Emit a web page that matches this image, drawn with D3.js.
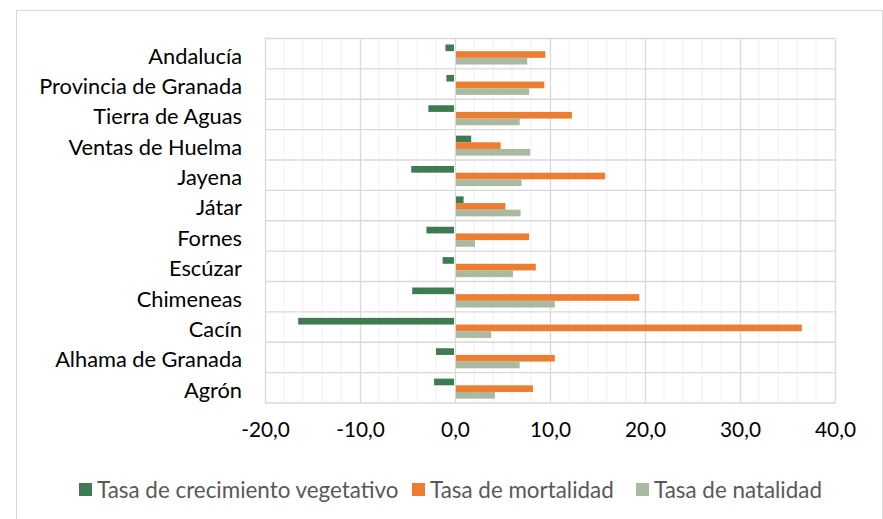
<html lang="es">
<head>
  <meta charset="UTF-8"/>
  <title>Tasas demográficas</title>
  <script src="https://d3js.org/d3.v7.min.js"></script>
  <style>
body {
  margin: 0;
  background: #fff;
  font-family: 'Lato', sans-serif;
}
svg {
  display: block;
}
.grid-major line {
  stroke: #d9d9d9;
  stroke-width: 1.3;
}
.grid-minor line {
  stroke: #f0f0f0;
  stroke-width: 1;
}
.domain {
  display: none;
}
.cat text {
  font-family: 'Lato', sans-serif;
  font-size: 21.8px;
  fill: #000;
}
.xaxis text {
  font-family: 'Lato', sans-serif;
  font-size: 20.8px;
  fill: #000;
}
.legend text {
  font-family: 'Lato', sans-serif;
  font-size: 22.4px;
  fill: #595959;
}
  </style>
</head>
<body>
  <svg width="883" height="519"></svg>
  <script>
const categories = ['Andalucía', 'Provincia de Granada', 'Tierra de Aguas', 'Ventas de Huelma',
  'Jayena', 'Játar', 'Fornes', 'Escúzar', 'Chimeneas', 'Cacín', 'Alhama de Granada', 'Agrón'];
const seriesNames = ['Tasa de crecimiento vegetativo', 'Tasa de mortalidad', 'Tasa de natalidad'];
const crecimiento = [-0.9, -0.8, -2.7, 1.6, -4.5, 0.8, -2.9, -1.2, -4.4, -16.4, -1.9, -2.1];
const mortalidad  = [9.4, 9.3, 12.2, 4.7, 15.7, 5.2, 7.7, 8.4, 19.3, 36.4, 10.4, 8.1];
const natalidad   = [7.5, 7.7, 6.7, 7.8, 6.9, 6.8, 2.0, 6.0, 10.4, 3.7, 6.7, 4.1];
const xTicks = [-20, -10, 0, 10, 20, 30, 40];
const colors = ['#3f7b52', '#ed7d31', '#aab9a2'];

const series = [crecimiento, mortalidad, natalidad];
const svg = d3.select('svg');

// outer chart frame
svg.append('rect')
  .attr('x', 16.5).attr('y', 10.5)
  .attr('width', 866).attr('height', 520)
  .attr('fill', 'none')
  .attr('stroke', '#d9d9d9');

const plotLeft = 265, plotRight = 835, plotTop = 38.5, plotBottom = 403;

const x = d3.scaleLinear().domain([-20, 40]).range([plotLeft, plotRight]);
const y = d3.scaleBand().domain(categories).range([plotTop, plotBottom]).padding(0);
const ySub = d3.scaleBand().domain(d3.range(3)).range([6, 26]).padding(0);

// minor vertical grid
svg.append('g')
  .attr('class', 'grid-minor')
  .selectAll('line')
  .data(d3.range(-20, 41, 2).filter(v => v % 10 !== 0))
  .join('line')
  .attr('x1', d => x(d)).attr('x2', d => x(d))
  .attr('y1', plotTop).attr('y2', plotBottom);

// major vertical grid
svg.append('g')
  .attr('class', 'grid-major')
  .attr('transform', `translate(0, ${plotTop})`)
  .call(d3.axisBottom(x).tickValues(xTicks).tickSize(plotBottom - plotTop).tickFormat(''));

// horizontal grid at category boundaries
svg.append('g')
  .attr('class', 'grid-major')
  .selectAll('line')
  .data(categories.map(c => y(c)).concat([plotBottom]))
  .join('line')
  .attr('x1', plotLeft).attr('x2', plotRight)
  .attr('y1', d => d).attr('y2', d => d);

// bars
const groups = svg.append('g')
  .selectAll('g')
  .data(categories)
  .join('g')
  .attr('transform', c => `translate(0, ${y(c)})`);

groups.selectAll('rect')
  .data((c, i) => series.map((s, k) => ({ k, v: s[i] })))
  .join('rect')
  .attr('x', d => Math.min(x(0), x(d.v)) + (d.v < 0 ? -1 : 1))
  .attr('width', d => Math.abs(x(d.v) - x(0)))
  .attr('y', d => ySub(d.k))
  .attr('height', ySub.bandwidth())
  .attr('fill', d => colors[d.k]);

// category labels
svg.append('g')
  .attr('class', 'cat')
  .attr('transform', `translate(${plotLeft - 23}, 0)`)
  .call(d3.axisLeft(y).tickSize(0).tickPadding(0))
  .selectAll('text')
  .attr('dy', '0.45em');

// x tick labels
svg.append('g')
  .attr('class', 'xaxis')
  .attr('transform', `translate(0, ${plotBottom + 19})`)
  .call(d3.axisBottom(x).tickValues(xTicks).tickSize(0).tickPadding(0)
    .tickFormat(d => d3.format('.1f')(d).replace('.', ',').replace('−', '-')))
  .selectAll('text')
  .attr('dy', '0.7em');

// legend
const legendX = [79, 412, 636];
const legend = svg.append('g').attr('class', 'legend')
  .selectAll('g')
  .data(seriesNames)
  .join('g')
  .attr('transform', (d, i) => `translate(${legendX[i]}, 483)`);

legend.append('rect')
  .attr('width', 13).attr('height', 13)
  .attr('fill', (d, i) => colors[i]);

legend.append('text')
  .attr('x', 18).attr('y', 7)
  .attr('dy', '0.35em')
  .text(d => d);
  </script>
</body>
</html>
